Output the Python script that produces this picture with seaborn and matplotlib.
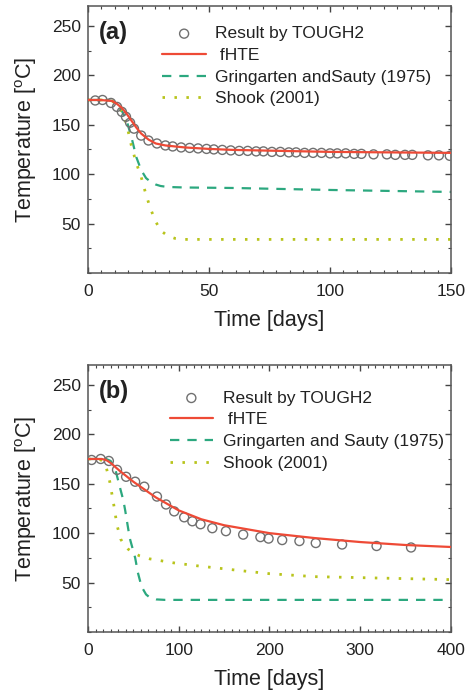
import matplotlib
matplotlib.use("Agg")
import matplotlib.pyplot as plt
from matplotlib.ticker import AutoMinorLocator, MultipleLocator
import seaborn as sns

# ---------------------------------------------------
# DATA
# ---------------------------------------------------

# panel (a)
tough_a_t = [3, 6, 9.5, 12, 14, 15.7, 17.4, 19, 22, 25, 28.5, 32, 35, 38.5, 42,
             45.5, 49, 52, 55.5, 59, 62.5, 66, 69.5, 72.5, 76, 79.5, 83, 86,
             89.5, 93, 96.5, 100, 103, 106.5, 110, 113, 118, 123.5, 127, 131,
             134, 140.5, 145, 149.5]
tough_a_v = [174.5, 175, 172, 168, 163, 158, 152, 146, 139, 134, 131, 129, 128,
             127, 126.5, 126, 125.5, 125, 124.5, 124, 123.5, 123.5, 123, 123,
             122.5, 122.5, 122, 122, 121.5, 121.5, 121.5, 121, 121, 121, 120.5,
             120.5, 120, 120, 119.5, 119.5, 119.5, 119, 119, 118.5]

fhte_a_t = [0, 5, 10, 12, 14, 16, 18, 20, 22, 25, 28, 32, 40, 50, 60, 80, 100, 125, 150]
fhte_a_v = [175, 175, 174, 171, 167, 161, 154, 147, 141, 135, 131, 129, 127,
            125.5, 124.5, 123.5, 122.5, 122, 121.5]

gs_a_t = [0, 8, 10, 12, 14, 16, 18, 20, 22, 24, 26, 28, 30, 33, 40, 60, 100, 150]
gs_a_v = [175, 175, 174, 170, 164, 154, 137, 117, 104, 96, 92, 89.5, 88, 87,
          86.5, 86, 84, 82]

shook_a_t = [0, 8, 10, 12, 14, 16, 18, 20, 22, 24, 26, 28, 30, 33, 36, 40, 60, 100, 150]
shook_a_v = [175, 175, 174, 170, 163, 150, 128, 111, 97, 79, 64, 52, 43, 37.5,
             35, 34, 34, 34, 34]

# panel (b)
tough_b_t = [4, 14, 23, 32, 42, 52, 62, 76, 86, 95, 106, 115, 124, 137, 152,
             171, 190, 199, 214, 233, 251, 280, 318, 356]
tough_b_v = [174, 175, 173, 164, 157, 152, 147, 137, 129, 122, 116, 112, 109,
             105, 102, 98.5, 96, 94.5, 93, 92, 90, 88.5, 87, 85.5]

fhte_b_t = [0, 15, 20, 25, 30, 35, 50, 75, 100, 125, 150, 200, 250, 300, 350, 400]
fhte_b_v = [175, 175, 174, 171, 167, 163, 152, 136, 123, 114, 108, 100, 95, 91, 88, 86]

gs_b_t = [0, 20, 25, 30, 35, 39, 41, 46, 52, 55, 59, 64, 68, 75, 85, 400]
gs_b_v = [175, 175, 173, 165, 147, 133, 123, 95, 75, 60, 46, 38, 35, 33, 32.5, 32.5]

shook_b_t = [0, 12, 16, 20, 24, 28, 32, 36, 40, 44, 50, 57, 68, 81, 94, 120,
             169, 200, 250, 300, 350, 400]
shook_b_v = [175, 175, 173, 167, 152, 131, 108, 94, 88, 84, 80, 77, 74, 72, 70,
             67, 62, 59, 56, 55, 54, 53]

RED = '#ee4a36'
GREEN = '#2ca87f'
YELLOW = '#b8c41c'
CIRCLE = '#707070'

sns.set_style("ticks")
plt.rcParams['font.family'] = ['Liberation Sans', 'DejaVu Sans']
plt.rcParams['mathtext.fontset'] = 'custom'
plt.rcParams['mathtext.rm'] = 'Liberation Sans'
plt.rcParams['axes.edgecolor'] = '#555555'
plt.rcParams['axes.linewidth'] = 1.1


def draw_panel(ax, tag, tough, fhte, gs, shook, gs_label, xmax, xstep, xminor, leg_x, leg_y):

    sns.scatterplot(x=tough[0], y=tough[1], ax=ax, marker='o', s=42,
                    facecolor='none', edgecolor=CIRCLE, linewidth=1.0,
                    label='Result by TOUGH2', zorder=3)
    sns.lineplot(x=fhte[0], y=fhte[1], ax=ax, color=RED, linewidth=1.6,
                 label=' fHTE', zorder=4)
    sns.lineplot(x=gs[0], y=gs[1], ax=ax, color=GREEN, linewidth=1.6,
                 linestyle=(0, (4.2, 3.6)), label=gs_label, zorder=2)
    sns.lineplot(x=shook[0], y=shook[1], ax=ax, color=YELLOW, linewidth=2.0,
                 linestyle=(0, (0.9, 3.4)), label='Shook (2001)', zorder=2)

    ax.set_xlim(0, xmax)
    ax.set_ylim(0, 270)
    ax.xaxis.set_major_locator(MultipleLocator(xstep))
    ax.set_yticks([50, 100, 150, 200, 250])
    ax.xaxis.set_minor_locator(AutoMinorLocator(xminor))
    ax.yaxis.set_minor_locator(MultipleLocator(25))

    ax.tick_params(which='both', direction='in', top=True, right=True,
                   color='#444444', labelsize=12.5, labelcolor='#222222')
    ax.tick_params(which='major', length=4, width=1)
    ax.tick_params(which='minor', length=2.5, width=0.8)
    ax.tick_params(axis='x', pad=8)
    ax.tick_params(axis='y', pad=5)

    ax.set_xlabel('Time [days]', fontsize=15.5, labelpad=8, color='#222222')
    ax.set_ylabel('Temperature [$^{\\mathrm{o}}$C]', fontsize=15.5, labelpad=9,
                  color='#222222')

    ax.text(0.03, 0.90, tag, transform=ax.transAxes, fontsize=17,
            fontweight='bold', va='center', ha='left', color='#222222')

    ax.legend(loc='upper left', bbox_to_anchor=(leg_x, leg_y), frameon=False,
              fontsize=12.5, handlelength=2.5, handletextpad=0.55,
              labelspacing=0.38, borderaxespad=0, borderpad=0,
              labelcolor='#222222')


fig = plt.figure(figsize=(4.71, 6.94), dpi=100)
ax1 = fig.add_axes([0.1868, 0.6066, 0.7707, 0.3847])
ax2 = fig.add_axes([0.1868, 0.0893, 0.7707, 0.3847])

draw_panel(ax1, '(a)', (tough_a_t, tough_a_v), (fhte_a_t, fhte_a_v),
           (gs_a_t, gs_a_v), (shook_a_t, shook_a_v),
           'Gringarten andSauty (1975)', 150, 50, 9, 0.205, 0.925)
draw_panel(ax2, '(b)', (tough_b_t, tough_b_v), (fhte_b_t, fhte_b_v),
           (gs_b_t, gs_b_v), (shook_b_t, shook_b_v),
           'Gringarten and Sauty (1975)', 400, 100, 12, 0.225, 0.905)

fig.savefig('out.png', dpi=100)
